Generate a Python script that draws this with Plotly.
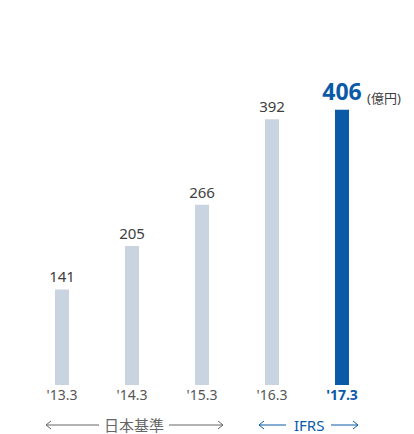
import plotly.graph_objects as go

categories = ["'13.3", "'14.3", "'15.3", "'16.3", "'17.3"]
values = [141, 205, 266, 392, 406]
unit_label = "(億円)"
gaap_label = "日本基準"
ifrs_label = "IFRS"

GRAY = "#cad4e0"
BLUE = "#0a5aa8"
TXT = "#404040"
FONT = "Noto Sans, Noto Sans CJK JP, sans-serif"

W, H = 414, 434
ML, MR, MT, MB = 27, 37, 80, 49
PW, PH = W - ML - MR, H - MT - MB

def px(x):
    return (x - ML) / PW

def py(y):
    return (H - MB - y) / PH

bar_colors = [GRAY] * 4 + [BLUE]
text_colors = [TXT] * 4 + [BLUE]
text_sizes = [15] * 4 + [23]
texts = [str(v) for v in values[:-1]] + ["<b>%d</b>" % values[-1]]
ticktext = categories[:-1] + ["<b><span style='color:%s'>%s</span></b>" % (BLUE, categories[-1])]

fig = go.Figure(go.Bar(
    x=list(range(len(categories))), y=values, width=0.2,
    marker=dict(color=bar_colors, line=dict(width=0)),
    text=texts, textposition="outside", constraintext="none",
    textfont=dict(color=text_colors, size=text_sizes, family=FONT),
    cliponaxis=False, hoverinfo="skip",
))

shapes = []
annotations = []

def arrow_group(x0, t0, t1, x1, y, color, label, size):
    lw = 1
    shapes.append(dict(type="line", xref="paper", yref="paper", x0=px(x0), x1=px(t0), y0=py(y), y1=py(y), line=dict(color=color, width=lw)))
    shapes.append(dict(type="line", xref="paper", yref="paper", x0=px(t1), x1=px(x1), y0=py(y), y1=py(y), line=dict(color=color, width=lw)))
    for tip, d in ((x0, 1), (x1, -1)):
        shapes.append(dict(type="path", xref="paper", yref="paper",
                           path="M %f,%f L %f,%f L %f,%f" % (px(tip + 5 * d), py(y - 4), px(tip), py(y), px(tip + 5 * d), py(y + 4)),
                           line=dict(color=color, width=lw)))
    annotations.append(dict(xref="paper", yref="paper", x=px((t0 + t1) / 2), y=py(y), text=label, showarrow=False,
                            font=dict(color=color, size=size, family=FONT), xanchor="center", yanchor="middle"))

arrow_group(46, 99, 169, 223, 425, "#666666", gaap_label, 15)
arrow_group(259, 286, 331, 358, 425, BLUE, ifrs_label, 15)

annotations.append(dict(xref="paper", yref="paper", x=px(365), y=py(98), text=unit_label, showarrow=False,
                        font=dict(color=TXT, size=13, family=FONT), xanchor="left", yanchor="middle"))

fig.update_layout(
    width=W, height=H, margin=dict(l=ML, r=MR, t=MT, b=MB),
    paper_bgcolor="white", plot_bgcolor="white", showlegend=False,
    xaxis=dict(range=[-0.5, 4.5], tickvals=list(range(len(categories))), ticktext=ticktext,
               showgrid=False, zeroline=False, showline=False, ticks="",
               tickfont=dict(color="#555555", size=14, family=FONT), fixedrange=True),
    yaxis=dict(range=[0, 450], visible=False, fixedrange=True),
    shapes=shapes, annotations=annotations,
)

fig.write_html("out.html", config={"displayModeBar": False})
